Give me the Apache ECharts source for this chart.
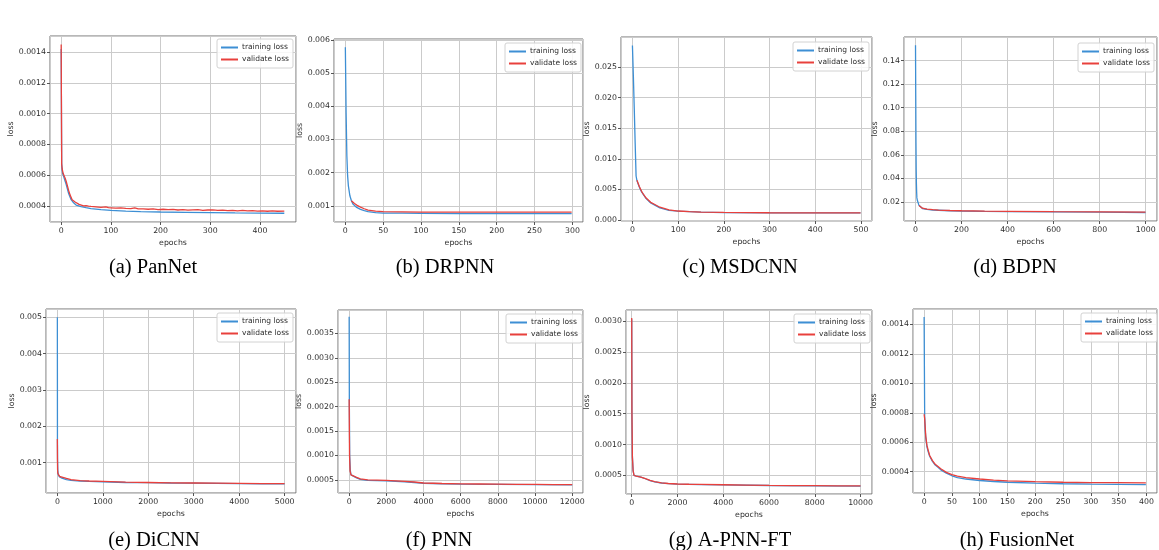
<!DOCTYPE html>
<html>
<head>
<meta charset="utf-8">
<script src="https://cdn.jsdelivr.net/npm/echarts@6/dist/echarts.min.js"></script>
<style>
  html, body { margin: 0; padding: 0; background: #fff; }
  #chart { width: 1159px; height: 550px; }
</style>
</head>
<body>
<div id="chart"></div>
<script>
// ---- data (epochs / loss) ----

// (a) PanNet
const panNetTrainEpochs = [0, 1, 2, 3, 5, 8, 10, 15, 20, 25, 30, 40, 50, 60, 80, 100, 130, 160, 200, 250, 300, 350, 400, 449];
const panNetTrainLoss = [0.00142, 0.00068, 0.00063, 0.00061, 0.00059, 0.00056, 0.00054, 0.00048, 0.00044, 0.00042, 0.000405, 0.000395, 0.000388, 0.000382, 0.000375, 0.00037, 0.000366, 0.000363, 0.00036, 0.000358, 0.000356, 0.000354, 0.000353, 0.000352];
const panNetValEpochs = [0, 1, 2, 4, 6, 8, 10, 12, 15, 18, 22, 26, 28, 30, 32, 36, 40, 45, 50, 55, 60, 70, 80, 90, 95, 100, 110, 120, 130, 140, 148, 155, 165, 175, 185, 195, 205, 215, 225, 235, 245, 255, 265, 275, 285, 295, 305, 315, 325, 335, 345, 355, 365, 375, 385, 395, 405, 415, 425, 435, 449];
const panNetValLoss = [0.00145, 0.00067, 0.00064, 0.00061, 0.0006, 0.00058, 0.00056, 0.00055, 0.0005, 0.00047, 0.00044, 0.00043, 0.000425, 0.000438, 0.00042, 0.00041, 0.000405, 0.0004, 0.000401, 0.000398, 0.000396, 0.000393, 0.00039, 0.000393, 0.000388, 0.000387, 0.000385, 0.000387, 0.000383, 0.000382, 0.000387, 0.00038, 0.000381, 0.000378, 0.00038, 0.000376, 0.000378, 0.000375, 0.000377, 0.000373, 0.000375, 0.000372, 0.000374, 0.000375, 0.000371, 0.000373, 0.000374, 0.00037, 0.000372, 0.000369, 0.000371, 0.000368, 0.00037, 0.000367, 0.000369, 0.000366, 0.000368, 0.000365, 0.000367, 0.000365, 0.000366];

// (b) DRPNN
const drpnnTrainEpochs = [0, 1, 2, 3, 4, 6, 8, 10, 12, 15, 20, 25, 30, 40, 50, 75, 100, 150, 200, 250, 299];
const drpnnTrainLoss = [0.00578, 0.0038, 0.0025, 0.0019, 0.0016, 0.0013, 0.00115, 0.00105, 0.001, 0.00095, 0.00089, 0.00085, 0.00082, 0.00079, 0.00078, 0.000775, 0.00077, 0.000765, 0.000762, 0.00076, 0.00076];
const drpnnValEpochs = [8, 10, 12, 15, 20, 25, 30, 40, 50, 75, 100, 150, 200, 250, 299];
const drpnnValLoss = [0.00115, 0.0011, 0.00107, 0.00102, 0.00096, 0.00091, 0.00087, 0.00084, 0.00082, 0.000815, 0.00081, 0.00081, 0.000808, 0.000807, 0.000806];

// (c) MSDCNN
const msdcnnTrainEpochs = [0, 2, 4, 6, 8, 10, 15, 20, 30, 40, 60, 80, 100, 150, 200, 300, 400, 499];
const msdcnnTrainLoss = [0.0285, 0.0236, 0.0182, 0.0125, 0.0072, 0.0064, 0.0054, 0.0046, 0.0035, 0.0028, 0.002, 0.0016, 0.00145, 0.0013, 0.00123, 0.00119, 0.00118, 0.00117];
const msdcnnValEpochs = [10, 15, 20, 25, 30, 40, 50, 60, 80, 100, 125, 150, 200, 250, 300, 400, 499];
const msdcnnValLoss = [0.0065, 0.0055, 0.0047, 0.0041, 0.0036, 0.0029, 0.0025, 0.0021, 0.00168, 0.00148, 0.00138, 0.0013, 0.00125, 0.00122, 0.0012, 0.00119, 0.00118];

// (d) BDPN
const bdpnTrainEpochs = [0, 1, 2, 3, 4, 5, 6, 8, 10, 15, 20, 30, 50, 75, 100, 150, 200, 300, 400, 600, 800, 999];
const bdpnTrainLoss = [0.153, 0.11, 0.07, 0.047, 0.035, 0.028, 0.0235, 0.0215, 0.0205, 0.0172, 0.016, 0.0145, 0.0137, 0.0132, 0.013, 0.0126, 0.0124, 0.0121, 0.0119, 0.0117, 0.0114, 0.0111];
const bdpnValEpochs = [15, 20, 30, 50, 75, 100, 150, 200, 300, 400, 600, 800, 999];
const bdpnValLoss = [0.017, 0.0162, 0.0148, 0.014, 0.0135, 0.0132, 0.0128, 0.0126, 0.0123, 0.0121, 0.0118, 0.0116, 0.0114];

// (e) DiCNN
const dicnnTrainEpochs = [0, 2, 5, 10, 20, 50, 100, 200, 300, 500, 700, 1000, 1500, 2000, 2500, 3000, 3500, 4000, 4500, 4999];
const dicnnTrainLoss = [0.005, 0.0016, 0.00105, 0.00078, 0.00066, 0.0006, 0.00057, 0.00053, 0.00051, 0.00049, 0.00048, 0.00047, 0.00045, 0.000445, 0.000435, 0.00043, 0.000425, 0.00042, 0.000415, 0.000412];
const dicnnValEpochs = [0, 2, 5, 10, 20, 50, 100, 200, 300, 500, 700, 1000, 1500, 2000, 2500, 3000, 3500, 4000, 4500, 4999];
const dicnnValLoss = [0.00165, 0.0011, 0.0008, 0.0007, 0.00066, 0.00062, 0.0006, 0.00056, 0.00053, 0.0005, 0.00049, 0.00048, 0.00046, 0.00045, 0.00044, 0.000435, 0.00043, 0.000425, 0.00042, 0.000418];

// (f) PNN
const pnnTrainEpochs = [0, 10, 30, 60, 100, 200, 400, 600, 1000, 1500, 2000, 2500, 3000, 3500, 4000, 5000, 6000, 8000, 10000, 11999];
const pnnTrainLoss = [0.00384, 0.0021, 0.001, 0.0007, 0.0006, 0.00057, 0.00054, 0.00051, 0.00049, 0.000485, 0.00048, 0.00047, 0.00046, 0.000445, 0.00043, 0.00042, 0.000413, 0.000405, 0.0004, 0.000395];
const pnnValEpochs = [0, 20, 50, 100, 200, 400, 600, 1000, 1500, 2000, 2500, 3000, 3500, 4000, 4500, 5000, 6000, 7000, 8000, 9000, 10000, 11000, 11999];
const pnnValLoss = [0.00215, 0.001, 0.00068, 0.0006, 0.00058, 0.00055, 0.00052, 0.0005, 0.000495, 0.00049, 0.00048, 0.00047, 0.000455, 0.000435, 0.00043, 0.000425, 0.000418, 0.000414, 0.00041, 0.000407, 0.000405, 0.000402, 0.0004];

// (g) A-PNN-FT
const apnnTrainEpochs = [0, 10, 30, 60, 100, 200, 400, 600, 800, 1000, 1300, 1600, 2000, 3000, 4000, 6000, 8000, 9999];
const apnnTrainLoss = [0.00303, 0.0015, 0.0008, 0.00058, 0.0005, 0.00049, 0.000472, 0.000447, 0.000418, 0.000398, 0.000378, 0.000368, 0.00036, 0.000353, 0.000348, 0.000338, 0.000333, 0.000328];
const apnnValEpochs = [0, 10, 30, 60, 100, 200, 400, 600, 800, 1000, 1300, 1600, 2000, 2500, 3000, 4000, 5000, 6000, 7000, 8000, 9000, 9999];
const apnnValLoss = [0.00305, 0.0015, 0.0008, 0.00058, 0.0005, 0.00049, 0.000475, 0.00045, 0.00042, 0.0004, 0.00038, 0.00037, 0.000362, 0.000358, 0.000355, 0.00035, 0.000345, 0.00034, 0.000337, 0.000335, 0.000332, 0.00033];

// (h) FusionNet
const fusionTrainEpochs = [0, 1, 2, 3, 5, 7, 10, 15, 20, 25, 30, 40, 50, 60, 75, 100, 125, 150, 200, 250, 300, 350, 399];
const fusionTrainLoss = [0.00145, 0.00078, 0.00068, 0.00063, 0.00057, 0.00054, 0.000505, 0.00047, 0.000445, 0.00043, 0.000412, 0.00039, 0.000372, 0.00036, 0.00035, 0.00034, 0.000333, 0.000328, 0.000322, 0.000318, 0.000315, 0.000313, 0.000312];
const fusionValEpochs = [0, 1, 2, 3, 5, 7, 10, 15, 20, 25, 30, 40, 50, 60, 75, 100, 125, 150, 200, 250, 300, 350, 399];
const fusionValLoss = [0.00079, 0.00076, 0.0007, 0.00064, 0.00058, 0.00055, 0.00051, 0.000475, 0.00045, 0.000435, 0.00042, 0.000395, 0.00038, 0.00037, 0.00036, 0.00035, 0.000343, 0.000338, 0.000332, 0.000328, 0.000326, 0.000325, 0.000324];

const captions = ['(a) PanNet', '(b) DRPNN', '(c) MSDCNN', '(d) BDPN', '(e) DiCNN', '(f) PNN', '(g) A-PNN-FT', '(h) FusionNet'];

// ---- layout ----
const FONT = 'DejaVu Sans';
const BLUE = '#3d8fd4';
const RED = '#e8403c';

const panels = [
  { grid: [50, 36, 246, 186], x: [-22.5, 472.5, 100], y: [0.000295, 0.001505, 0.0002, 4], gap: 33, legend: [217, 39], cap: [153, 257],
    tx: panNetTrainEpochs, ty: panNetTrainLoss, vx: panNetValEpochs, vy: panNetValLoss },
  { grid: [334, 39, 249, 183], x: [-15, 314, 50], y: [0.00051, 0.00603, 0.001, 3], gap: 29, legend: [505, 43], cap: [445, 257],
    tx: drpnnTrainEpochs, ty: drpnnTrainLoss, vx: drpnnValEpochs, vy: drpnnValLoss },
  { grid: [621, 37, 251, 184], x: [-25, 524, 100], y: [-0.00015, 0.0299, 0.005, 3], gap: 30, legend: [793, 42], cap: [740, 257],
    tx: msdcnnTrainEpochs, ty: msdcnnTrainLoss, vx: msdcnnValEpochs, vy: msdcnnValLoss },
  { grid: [904, 37, 253, 184], x: [-50, 1049, 200], y: [0.0039, 0.160, 0.02, 2], gap: 24, legend: [1078, 43], cap: [1015, 257],
    tx: bdpnTrainEpochs, ty: bdpnTrainLoss, vx: bdpnValEpochs, vy: bdpnValLoss },
  { grid: [46, 309, 250, 184], x: [-250, 5250, 1000], y: [0.00016, 0.00523, 0.001, 3], gap: 28, legend: [217, 313], cap: [154, 530],
    tx: dicnnTrainEpochs, ty: dicnnTrainLoss, vx: dicnnValEpochs, vy: dicnnValLoss },
  { grid: [338, 310, 245, 183], x: [-600, 12580, 2000], y: [0.00023, 0.00398, 0.0005, 4], gap: 32, legend: [506, 314], cap: [439, 530],
    tx: pnnTrainEpochs, ty: pnnTrainLoss, vx: pnnValEpochs, vy: pnnValLoss },
  { grid: [626, 310, 246, 184], x: [-250, 10500, 2000], y: [0.0002, 0.00318, 0.0005, 4], gap: 32, legend: [794, 314], cap: [730, 530],
    tx: apnnTrainEpochs, ty: apnnTrainLoss, vx: apnnValEpochs, vy: apnnValLoss },
  { grid: [913, 309, 244, 184], x: [-20, 419, 50], y: [0.000255, 0.001505, 0.0002, 4], gap: 32, legend: [1081, 313], cap: [1017, 530],
    tx: fusionTrainEpochs, ty: fusionTrainLoss, vx: fusionValEpochs, vy: fusionValLoss }
];

const pairs = (xs, ys) => xs.map((x, i) => [x, ys[i]]);
const onStep = (v, step) => Math.abs(v / step - Math.round(v / step)) < 1e-6;

const textStyle = { fontFamily: FONT, fontSize: 7.8, color: '#2e2e2e' };

const grids = [], xAxes = [], yAxes = [], series = [], legends = [], titles = [];

panels.forEach((p, i) => {
  grids.push({
    left: p.grid[0], top: p.grid[1], width: p.grid[2], height: p.grid[3],
    show: true, borderColor: '#707070', borderWidth: 1, backgroundColor: '#fff'
  });
  xAxes.push({
    type: 'value', gridIndex: i, min: p.x[0], max: p.x[1],
    minInterval: p.x[2], maxInterval: p.x[2], splitNumber: 5,
    name: 'epochs', nameLocation: 'middle', nameGap: 17, nameTextStyle: textStyle,
    axisLine: { show: false, onZero: false },
    axisTick: { show: true, length: 3, lineStyle: { color: '#555' } },
    axisLabel: Object.assign({ margin: 5, showMinLabel: false, showMaxLabel: false,
      formatter: v => onStep(v, p.x[2]) ? String(Math.round(v)) : '' }, textStyle),
    splitLine: { show: true, lineStyle: { color: '#cbcbcb', width: 1 } }
  });
  yAxes.push({
    type: 'value', gridIndex: i, min: p.y[0], max: p.y[1],
    minInterval: p.y[2], maxInterval: p.y[2], splitNumber: 6,
    name: 'loss', nameLocation: 'middle', nameRotate: 90, nameGap: p.gap, nameTextStyle: textStyle,
    axisLine: { show: false, onZero: false },
    axisTick: { show: true, length: 3, lineStyle: { color: '#555' } },
    axisLabel: Object.assign({ margin: 4, showMinLabel: false, showMaxLabel: false,
      formatter: v => onStep(v, p.y[2]) ? v.toFixed(p.y[3]) : '' }, textStyle),
    splitLine: { show: true, lineStyle: { color: '#cbcbcb', width: 1 } }
  });
  series.push({
    type: 'line', name: 'training loss', xAxisIndex: i, yAxisIndex: i,
    data: pairs(p.tx, p.ty), symbol: 'none', showSymbol: false, silent: true,
    color: BLUE, lineStyle: { color: BLUE, width: 1.3 }, z: 2
  });
  series.push({
    type: 'line', name: 'validate loss', xAxisIndex: i, yAxisIndex: i,
    data: pairs(p.vx, p.vy), symbol: 'none', showSymbol: false, silent: true,
    color: RED, lineStyle: { color: RED, width: 1.3 }, z: 3
  });
  legends.push({
    data: ['training loss', 'validate loss'], orient: 'vertical',
    left: p.legend[0], top: p.legend[1], icon: 'rect', itemWidth: 17, itemHeight: 2, itemGap: 3,
    padding: [4, 4, 4, 4], backgroundColor: 'rgba(255,255,255,0.85)',
    borderColor: '#d2d2d2', borderWidth: 1, borderRadius: 2, selectedMode: false,
    textStyle: Object.assign({ lineHeight: 9, padding: [0, 0, 0, -1] }, textStyle, { fontSize: 7.5 })
  });
  titles.push({
    text: captions[i], left: p.cap[0], top: p.cap[1], textAlign: 'center', padding: 0,
    textStyle: { fontFamily: 'Liberation Serif', fontSize: 20.5, fontWeight: 'normal', color: '#000' }
  });
});

const chart = echarts.init(document.getElementById('chart'));
chart.setOption({
  animation: false,
  backgroundColor: '#fff',
  title: titles,
  legend: legends,
  grid: grids,
  xAxis: xAxes,
  yAxis: yAxes,
  series: series
});
</script>
</body>
</html>
